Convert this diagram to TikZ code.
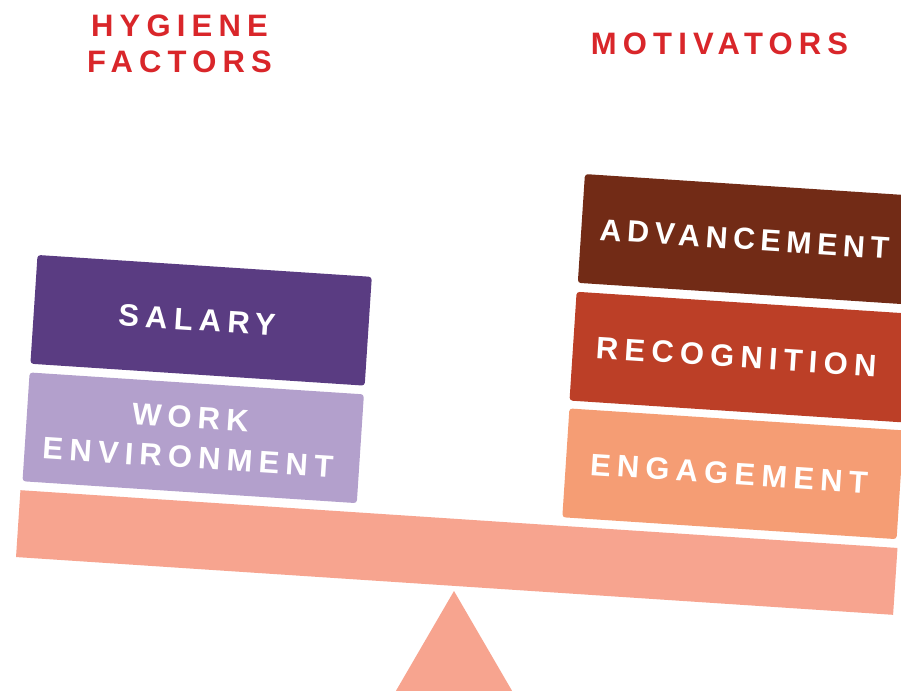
\documentclass[tikz,border=0pt]{standalone}
\usepackage{fontspec}
\newfontfamily\lbl{Liberation Sans}[LetterSpace=20]
\newfontfamily\lblnarrow{Liberation Sans}[LetterSpace=18]
\definecolor{titlered}{HTML}{D9262A}
\definecolor{salary}{HTML}{5A3C82}
\definecolor{workenv}{HTML}{B3A0CC}
\definecolor{advance}{HTML}{722B16}
\definecolor{recog}{HTML}{BC3F27}
\definecolor{engage}{HTML}{F59D74}
\definecolor{beamcol}{HTML}{F7A48F}
\newcommand{\tr}{\hspace*{8pt}}
\tikzset{
  blockbox/.style={rectangle, rounded corners=3pt, minimum width=335pt, minimum height=109pt,
    inner sep=0pt, rotate=-3.75, text=white, align=center,
    font=\lbl\bfseries\fontsize{31}{34}\selectfont},
  titletext/.style={text=titlered, align=center, inner sep=0pt,
    font=\lbl\bfseries\fontsize{31}{35.5}\selectfont}
}
\begin{document}
\begin{tikzpicture}[x=1pt,y=-1pt]
\clip (0,0) rectangle (901,690);
\fill[white] (0,0) rectangle (901,690);
% titles
\node[titletext] (hyg) at (179.5,44) {HYGIENE\\FACTORS};
\node[titletext] (mot) at (719.5,43.5) {MOTIVATORS};
% beam and fulcrum
\node[rectangle, fill=beamcol, minimum width=879pt, minimum height=67pt, inner sep=0pt, rotate=-3.77] (beam) at (456.75,552.5) {};
\coordinate (apex) at (454,591);
\coordinate (tl) at (379,720);
\coordinate (tr) at (529,720);
\fill[beamcol] (apex) -- (tr) -- (tl) -- cycle;
% left boxes
\node[blockbox, fill=salary] (sal) at (201.1,320.3) {SALARY\tr};
\node[blockbox, fill=workenv, font=\lbl\bfseries\fontsize{31}{40}\selectfont] (work) at (193.2,437.8) {WORK\tr\\ENVIRONMENT\tr};
% right boxes
\node[blockbox, fill=advance, font=\lblnarrow\bfseries\fontsize{30.5}{34}\selectfont] (adv) at (748.5,239.4) {ADVANCEMENT\tr};
\node[blockbox, fill=recog] (rec) at (740.2,357.1) {RECOGNITION\tr};
\node[blockbox, fill=engage] (eng) at (733,473.8) {ENGAGEMENT\tr};
\end{tikzpicture}
\end{document}
